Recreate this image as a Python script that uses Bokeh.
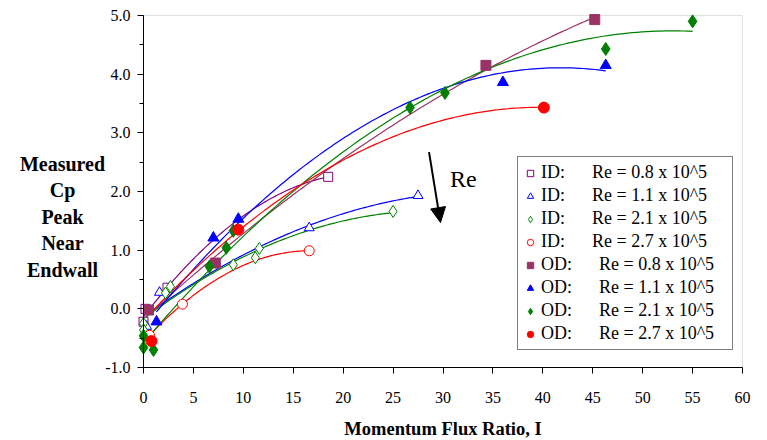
import numpy as np
from bokeh.plotting import figure
from bokeh.models import (Label, Arrow, NormalHead, SingleIntervalTicker,
                          NumeralTickFormatter, Legend, LegendItem,
                          BoxAnnotation)
from bokeh.embed import file_html
from bokeh.resources import INLINE

# Momentum flux ratio I and measured peak Cp near the endwall, per series
id08_x = [0.0, 0.2, 2.4, 18.5]
id08_y = [-0.22, 0.0, 0.36, 2.25]
id11_x = [0.3, 1.6, 16.6, 27.5]
id11_y = [-0.30, 0.28, 1.38, 1.93]
id21_x = [0.0, 0.0, 2.2, 2.7, 9.0, 11.2, 11.6, 25.0]
id21_y = [-0.25, -0.36, 0.27, 0.38, 0.75, 0.87, 1.03, 1.66]
id27_x = [0.6, 3.9, 16.6]
id27_y = [-0.45, 0.08, 0.99]

od08_x = [0.5, 7.2, 34.3, 45.2]
od08_y = [-0.02, 0.78, 4.15, 4.93]
od11_x = [1.3, 7.0, 9.5, 36.0, 46.3]
od11_y = [-0.22, 1.21, 1.53, 3.86, 4.15]
od21_x = [0.0, 0.0, 1.0, 6.6, 8.3, 9.0, 26.7, 30.2, 46.3, 55.0]
od21_y = [-0.46, -0.66, -0.70, 0.72, 1.04, 1.33, 3.43, 3.68, 4.43, 4.90]
od27_x = [0.8, 9.5, 40.1]
od27_y = [-0.55, 1.35, 3.43]

# the OD 2.7 trend curve is traced along its drawn path
od27_trend_x = [0.8, 2.7, 6.4, 9.5, 20.4, 29.8, 37.1, 40.1]
od27_trend_y = [0.0, 0.25, 0.82, 1.34, 2.58, 3.23, 3.41, 3.43]

SP = "\u00a0"
legend_texts = [
    "ID:" + SP * 6 + "Re = 0.8 x 10^5",
    "ID:" + SP * 6 + "Re = 1.1 x 10^5",
    "ID:" + SP * 6 + "Re = 2.1 x 10^5",
    "ID:" + SP * 6 + "Re = 2.7 x 10^5",
    "OD:" + SP * 6 + "Re = 0.8 x 10^5",
    "OD:" + SP * 6 + "Re = 1.1 x 10^5",
    "OD:" + SP * 6 + "Re = 2.1 x 10^5",
    "OD:" + SP * 6 + "Re = 2.7 x 10^5",
]
y_title_lines = ["Measured", "Cp", "Peak", "Near", "Endwall"]
x_title = "Momentum Flux Ratio, I"

X_MIN, X_MAX = 0, 60
Y_MIN, Y_MAX = -1, 5

SERIF = "Liberation Serif"

# the frame fills the whole canvas; axes sit at fixed data locations so
# the titles can live in the margin as ordinary labels
W, H = 767, 440
LEFT, RIGHT, TOP, BOTTOM = 143, 742, 15, 367
xs_px = (RIGHT - LEFT) / (X_MAX - X_MIN)
ys_px = (BOTTOM - TOP) / (Y_MAX - Y_MIN)
x_range = (X_MIN - LEFT / xs_px, X_MAX + (W - RIGHT) / xs_px)
y_range = (Y_MIN - (H - BOTTOM) / ys_px, Y_MAX + TOP / ys_px)

p = figure(width=W, height=H, x_range=x_range, y_range=y_range,
           output_backend="svg", toolbar_location=None,
           min_border=0, min_border_left=0, min_border_right=0,
           min_border_top=0, min_border_bottom=0)
p.grid.visible = False
p.outline_line_color = None

# grey frame on top and right; the black axes cover left and bottom
p.add_layout(BoxAnnotation(left=X_MIN, right=X_MAX, bottom=Y_MIN, top=Y_MAX,
                           fill_alpha=0, line_color="#9a9a9a", line_width=1,
                           level="underlay"))

# x axis
p.xaxis.fixed_location = Y_MIN
p.xaxis.bounds = (X_MIN, X_MAX)
p.xaxis.ticker = SingleIntervalTicker(interval=5, num_minor_ticks=0)
p.xaxis.minor_tick_line_color = None
p.xaxis.major_tick_in = 0
p.xaxis.major_tick_out = 6
p.xaxis.major_label_standoff = 18

# y axis
p.yaxis.fixed_location = X_MIN
p.yaxis.bounds = (Y_MIN, Y_MAX)
p.yaxis.ticker = SingleIntervalTicker(interval=1, num_minor_ticks=2)
p.yaxis.formatter = NumeralTickFormatter(format="0.0")
p.yaxis.major_tick_in = 0
p.yaxis.major_tick_out = 6
p.yaxis.minor_tick_in = 0
p.yaxis.minor_tick_out = 4
p.yaxis.major_label_standoff = 7
p.yaxis.minor_tick_line_color = "black"

for ax in (p.xaxis, p.yaxis):
    ax.axis_line_color = "black"
    ax.major_tick_line_color = "black"
    ax.major_label_text_font = SERIF
    ax.major_label_text_font_size = "16px"
    ax.major_label_text_color = "black"


def trend(xs, ys, color):
    # second-order polynomial trendline over the series' range
    c = np.polyfit(xs, ys, 2)
    xx = np.linspace(min(xs), max(xs), 120)
    p.line(xx, np.polyval(c, xx), line_color=color, line_width=1.2)


PURPLE = "#800080"
PLUM = "#993366"
BLUE = "#0000ff"
GREEN = "#008000"
RED = "#ff0000"

series = [
    (id08_x, id08_y, PURPLE, "square", False, 9),
    (id11_x, id11_y, BLUE, "triangle", False, 10),
    (id21_x, id21_y, GREEN, "diamond", False, 12),
    (id27_x, id27_y, RED, "circle", False, 10),
    (od08_x, od08_y, PLUM, "square", True, 10),
    (od11_x, od11_y, BLUE, "triangle", True, 11),
    (od21_x, od21_y, GREEN, "diamond", True, 13),
    (od27_x, od27_y, RED, "circle", True, 11),
]

for xs, ys, col, _, _, _ in series:
    if xs is od27_x:
        trend(od27_trend_x, od27_trend_y, col)
    else:
        trend(xs, ys, col)

items = []
for (xs, ys, col, mk, filled, sz), txt in zip(series, legend_texts):
    r = p.scatter(xs, ys, marker=mk, size=sz, line_color=col, line_width=1,
                  fill_color=col if filled else "white", fill_alpha=1.0)
    items.append(LegendItem(label=txt + SP * 3, renderers=[r]))

legend = Legend(items=items, location=(517, 90))
legend.label_text_font = SERIF
legend.label_text_font_size = "18px"
legend.label_text_color = "black"
legend.border_line_color = "black"
legend.border_line_width = 1
legend.background_fill_color = "white"
legend.background_fill_alpha = 1.0
legend.padding = 4
legend.spacing = 0
legend.margin = 0
legend.label_height = 23
legend.glyph_height = 22
legend.glyph_width = 16
legend.label_standoff = 3
p.add_layout(legend, "center")

# Reynolds-number trend arrow
p.add_layout(Arrow(x_start=28.6, y_start=2.67, x_end=29.75, y_end=1.47,
                   line_color="black", line_width=2,
                   end=NormalHead(size=15, fill_color="black",
                                  line_color="black")))
p.add_layout(Label(x=30.7, y=1.99, text="Re", text_font=SERIF,
                   text_font_size="24px", text_color="black"))

# axis titles
p.add_layout(Label(x=(X_MIN + X_MAX) / 2, y=Y_MIN - 61 / ys_px, text=x_title,
                   text_font=SERIF, text_font_style="bold",
                   text_font_size="18.5px", text_align="center",
                   text_baseline="middle", text_color="black"))
for i, t in enumerate(y_title_lines):
    p.add_layout(Label(x=X_MIN - 81 / xs_px,
                       y=Y_MAX - (163 - TOP + 26.5 * i) / ys_px,
                       text=t, text_font=SERIF, text_font_style="bold",
                       text_font_size="20px", text_align="center",
                       text_baseline="middle", text_color="black"))

open("out.html", "w").write(file_html(p, INLINE))
